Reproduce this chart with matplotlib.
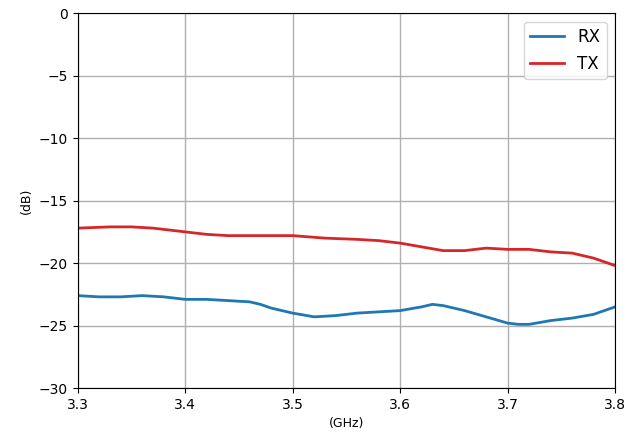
import numpy as np
import matplotlib.pyplot as plt

### Data ###

rx_freq = [3.30, 3.32, 3.34, 3.36, 3.38, 3.40, 3.42, 3.44, 3.46, 3.47, 3.48,
           3.50, 3.52, 3.54, 3.56, 3.58, 3.60, 3.62, 3.63, 3.64, 3.66, 3.68,
           3.70, 3.71, 3.72, 3.74, 3.76, 3.78, 3.80]
rx_db = [-22.6, -22.7, -22.7, -22.6, -22.7, -22.9, -22.9, -23.0, -23.1, -23.3, -23.6,
         -24.0, -24.3, -24.2, -24.0, -23.9, -23.8, -23.5, -23.3, -23.4, -23.8, -24.3,
         -24.8, -24.9, -24.9, -24.6, -24.4, -24.1, -23.5]

tx_freq = [3.30, 3.33, 3.35, 3.37, 3.40, 3.42, 3.44, 3.47, 3.50, 3.53, 3.56,
           3.58, 3.60, 3.62, 3.64, 3.66, 3.68, 3.70, 3.72, 3.74, 3.76, 3.78, 3.80]
tx_db = [-17.2, -17.1, -17.1, -17.2, -17.5, -17.7, -17.8, -17.8, -17.8, -18.0, -18.1,
         -18.2, -18.4, -18.7, -19.0, -19.0, -18.8, -18.9, -18.9, -19.1, -19.2, -19.6, -20.2]

x_ticks = [3.3, 3.4, 3.5, 3.6, 3.7, 3.8]
y_ticks = [0, -5, -10, -15, -20, -25, -30]

### Plot ###

fig = plt.figure(figsize=(6.27, 4.4), dpi=100)
ax = fig.add_axes([0.124, 0.118, 0.857, 0.852])

ax.plot(rx_freq, rx_db, color='#1f77b4', linewidth=2, label='RX')
ax.plot(tx_freq, tx_db, color='#d62728', linewidth=2, label='TX')

ax.set_xlim(3.3, 3.8)
ax.set_ylim(-30, 0)
ax.set_xticks(x_ticks)
ax.set_yticks(y_ticks)
ax.set_yticklabels([f'{v}'.replace('-', '\u2212') for v in y_ticks])
ax.tick_params(labelsize=10)
ax.grid(True, color='#b0b0b0', linewidth=1)

ax.set_xlabel('(GHz)', fontsize=9)
ax.set_ylabel('(dB)', fontsize=9)

ax.legend(loc='upper right', fontsize=12)

fig.savefig('out.png', dpi=100)
